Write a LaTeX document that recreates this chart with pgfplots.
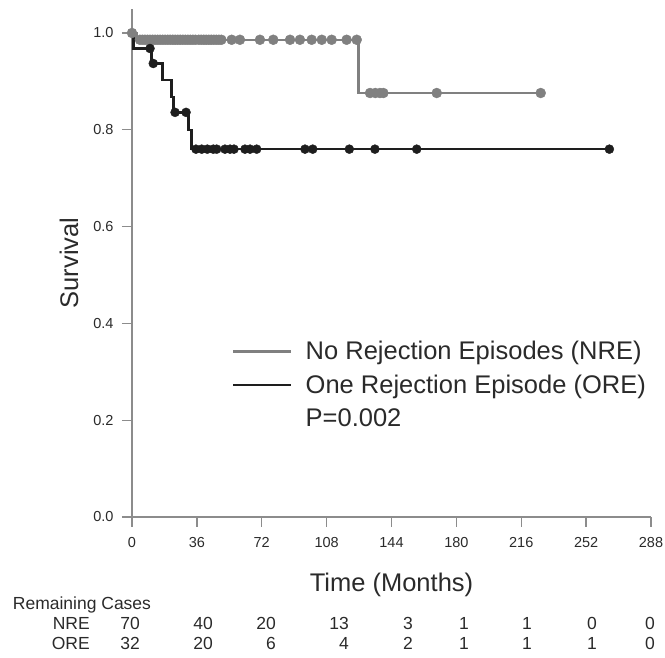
\documentclass[border=0pt]{standalone}
\usepackage{fontspec}
\setmainfont{Liberation Sans}
\usepackage{pgfplots}
\pgfplotsset{compat=1.18}
\definecolor{grayline}{HTML}{808080}
\definecolor{blackline}{HTML}{1E1E1E}
\definecolor{axisgray}{HTML}{8C8C8C}
\definecolor{txt}{HTML}{2A2A2A}
\begin{document}
\begin{tikzpicture}
\begin{axis}[
  scale only axis, width=519pt, height=508.2pt,
  xmin=0, xmax=288, ymin=0, ymax=1.05,
  axis lines*=left,
  axis line style={axisgray, line width=1.3pt},
  xtick={0,36,72,108,144,180,216,252,288},
  ytick={0,0.2,0.4,0.6,0.8,1.0},
  yticklabel style={xshift=-5pt, /pgf/number format/fixed, /pgf/number format/fixed zerofill, /pgf/number format/precision=1},
  /pgf/number format/assume math mode=true,
  tick align=outside, major tick length=10pt,
  tick style={axisgray, line width=1.3pt},
  ticklabel style={font=\fontsize{14.5}{16}\selectfont, text=txt},
  xticklabel style={yshift=-7pt},
  xlabel={Time (Months)}, ylabel={Survival},
  label style={font=\fontsize{25.5}{28}\selectfont, text=txt},
  xlabel style={at={(axis description cs:0.5,-0.1338)}, anchor=center},
  ylabel style={at={(axis description cs:-0.1214,0.5)}, anchor=center},
  legend style={draw=none, fill=none, at={(rel axis cs:0.1927,0.346)}, anchor=north west,
    font=\fontsize{25.5}{28}\selectfont, text=txt, inner xsep=0pt, inner ysep=0pt,
    row sep=13.5pt, column sep=13pt, nodes={inner sep=0pt}},
  legend cell align=left,
  clip=false,
]
% NRE step curve
\addplot[const plot, grayline, line width=2.5pt,
  legend image code/.code={\draw[grayline, line width=2.3pt] (0pt,0pt) -- (58pt,0pt);}]
  coordinates {(0,1.0) (2.6,0.986) (125.8,0.876) (226.8,0.876)};
\addlegendentry{No Rejection Episodes (NRE)}
% ORE step curve
\addplot[const plot, blackline, line width=2.5pt,
  legend image code/.code={\draw[blackline, line width=2.5pt] (0pt,0pt) -- (58pt,0pt);}]
  coordinates {(0,1.0) (0.7,0.968) (10.9,0.937) (17.0,0.903) (22.0,0.868) (22.9,0.836)
               (31.3,0.800) (33.1,0.760) (264.9,0.760)};
\addlegendentry{One Rejection Episode (ORE)}
% NRE censored
\addplot[only marks, mark=*, mark size=5pt, mark options={fill=grayline, draw=grayline}, forget plot]
  coordinates {(0,1.0)
  (4.4,0.986) (5.8,0.986) (7.2,0.986) (8.6,0.986) (10,0.986) (11.4,0.986) (12.8,0.986)
  (14.2,0.986) (15.6,0.986) (17,0.986) (18.4,0.986) (19.8,0.986) (21.2,0.986) (22.6,0.986)
  (24,0.986) (25.4,0.986) (26.8,0.986) (28.2,0.986) (29.6,0.986) (31,0.986) (32.4,0.986)
  (33.8,0.986) (35.2,0.986) (37,0.986) (38.4,0.986) (39.8,0.986) (41.2,0.986) (42.6,0.986)
  (44,0.986) (45.4,0.986) (46.8,0.986) (48.2,0.986) (49.6,0.986)
  (55.3,0.986) (59.9,0.986) (71,0.986) (78.4,0.986) (87.7,0.986) (93.2,0.986) (99.7,0.986)
  (105.3,0.986) (110.8,0.986) (119.1,0.986) (124.7,0.986)
  (132.1,0.876) (135,0.876) (137.6,0.876) (139.5,0.876) (169.1,0.876) (226.8,0.876)};
% ORE censored
\addplot[only marks, mark=*, mark size=4.5pt, mark options={fill=blackline, draw=blackline}, forget plot]
  coordinates {(10,0.968) (11.8,0.937) (23.9,0.836) (30,0.836)
  (35.5,0.760) (38.7,0.760) (41.8,0.760) (45.1,0.760) (47,0.760) (51.6,0.760) (54.4,0.760)
  (56.6,0.760) (62.7,0.760) (65.5,0.760) (69.2,0.760) (96,0.760) (100.3,0.760) (120.6,0.760)
  (134.8,0.760) (158,0.760) (264.9,0.760)};
\addlegendimage{empty legend}
\addlegendentry{P=0.002}
\end{axis}
% Remaining cases table
\begin{scope}[every node/.style={inner sep=0pt, text=txt, font=\fontsize{17.5}{20}\selectfont}]
\node[anchor=base west] at (-119.3pt,-92.5pt) {Remaining Cases};
\node[anchor=base east] at (-42pt,-112.3pt) {NRE};
\node[anchor=base east] at (-42pt,-132.3pt) {ORE};
\foreach \x/\a/\b in {8/70/32, 81/40/20, 144/20/6, 217/13/4, 281/3/2, 337/1/1, 400/1/1, 465/0/1, 523/0/0}{
  \node[anchor=base east] at (\x pt,-112.3pt) {\a};
  \node[anchor=base east] at (\x pt,-132.3pt) {\b};
}
\end{scope}
\pgfresetboundingbox
\path (-132pt,-141pt) rectangle (533pt,517pt);
\end{tikzpicture}
\end{document}
